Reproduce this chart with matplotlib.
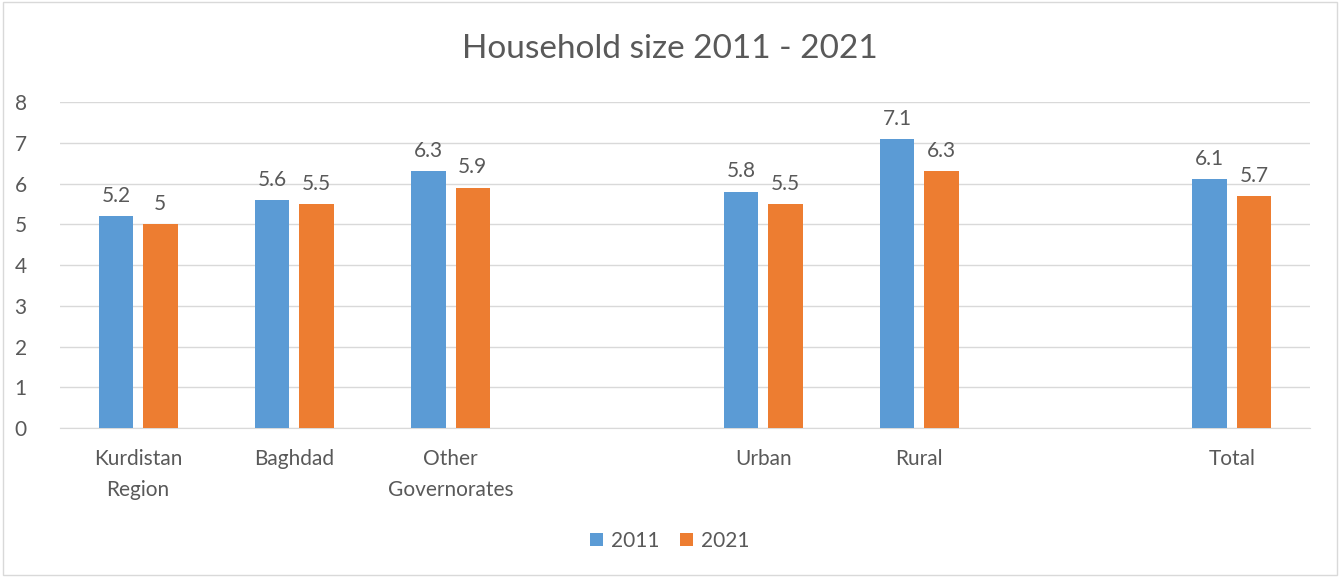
import numpy as np
import matplotlib
matplotlib.use('Agg')
import matplotlib.pyplot as plt
from matplotlib.patches import Rectangle

# data (empty slots are blank categories in the original sheet)
categories = ['Kurdistan\nRegion', 'Baghdad', 'Other\nGovernorates', '',
              'Urban', 'Rural', '', 'Total']
v2011 = [5.2, 5.6, 6.3, np.nan, 5.8, 7.1, np.nan, 6.1]
v2021 = [5.0, 5.5, 5.9, np.nan, 5.5, 6.3, np.nan, 5.7]
series_names = ['2011', '2021']

BLUE = '#5B9BD5'
ORANGE = '#ED7D31'
TXT = '#595959'
GRID = '#D9D9D9'

plt.rcParams['font.family'] = ['Lato', 'DejaVu Sans']

fig = plt.figure(figsize=(13.4, 5.77), dpi=100)
fig.patches.append(Rectangle((0.002, 0.003), 0.996, 0.994, transform=fig.transFigure,
                             fill=False, edgecolor='#D9D9D9', linewidth=1))
ax = fig.add_axes([0.0448, 0.2582, 0.9328, 0.565])

x = np.arange(len(categories))
w = 0.22
off = 0.142
b1 = ax.bar(x - off, v2011, width=w, color=BLUE, label=series_names[0], zorder=3)
b2 = ax.bar(x + off, v2021, width=w, color=ORANGE, label=series_names[1], zorder=3)

def fmt(v):
    return f'{v:g}'

for xs, vals in ((x - off, v2011), (x + off, v2021)):
    for xi, v in zip(xs, vals):
        if np.isnan(v):
            continue
        ax.text(xi, v + 0.25, fmt(v), ha='center', va='bottom', fontsize=15, color=TXT)

ax.set_xlim(-0.5, len(categories) - 0.5)
ax.set_ylim(0, 8)
ax.set_yticks(range(0, 9))
ax.set_xticks(x)
ax.set_xticklabels(categories, fontsize=15, color=TXT, linespacing=1.7)
ax.tick_params(axis='y', labelsize=15, labelcolor=TXT, length=0, pad=24)
ax.tick_params(axis='x', length=0, pad=15)
ax.grid(axis='y', color=GRID, linewidth=1, zorder=0)
for s in ('top', 'right', 'left'):
    ax.spines[s].set_visible(False)
ax.spines['bottom'].set_color(GRID)

fig.text(0.5, 0.915, 'Household size 2011 - 2021', ha='center', va='center',
         fontsize=24, color=TXT)

fig.legend(handles=[b1, b2], loc='center', bbox_to_anchor=(0.5, 0.062), ncol=2,
           frameon=False, fontsize=15, labelcolor=TXT, handlelength=0.6,
           handleheight=0.6, handletextpad=0.4, columnspacing=1.0)

fig.savefig('out.png', dpi=100, facecolor='white')
